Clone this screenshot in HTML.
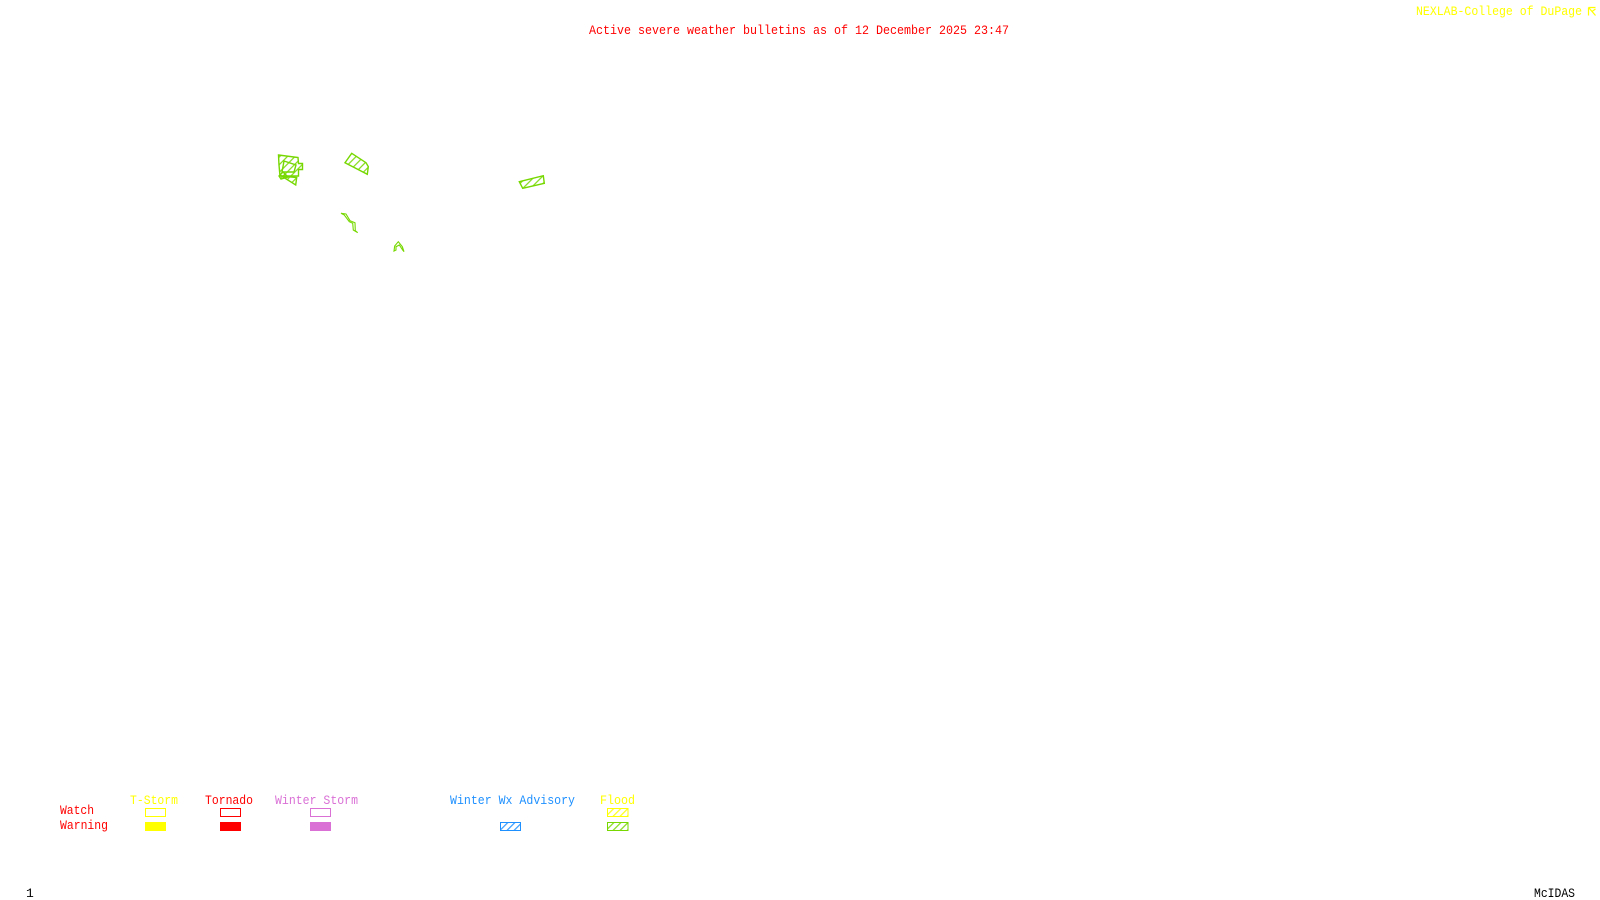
<!DOCTYPE html>
<html lang="en">
<head>
<meta charset="utf-8">
<title>Active severe weather bulletins</title>
<style>
html,body{margin:0;padding:0;background:#fff;width:1600px;height:900px;overflow:hidden}
svg{display:block}
text{font-family:"Liberation Mono","DejaVu Sans Mono",monospace;font-size:13px}
</style>
</head>
<body>
<svg width="1600" height="900" viewBox="0 0 1600 900" xmlns="http://www.w3.org/2000/svg">
<defs>
<pattern id="hg" width="5.4" height="5.4" patternUnits="userSpaceOnUse" patternTransform="rotate(45)">
<line x1="0.7" y1="0" x2="0.7" y2="5.4" stroke="#76d800" stroke-width="1.1"/>
</pattern>
<pattern id="hgs" width="5" height="5" patternUnits="userSpaceOnUse" patternTransform="rotate(45)">
<line x1="0.7" y1="0" x2="0.7" y2="5" stroke="#76d800" stroke-width="1.1"/>
</pattern>
<pattern id="hy" width="5" height="5" patternUnits="userSpaceOnUse" patternTransform="rotate(45)">
<line x1="0.7" y1="0" x2="0.7" y2="5" stroke="#ffff00" stroke-width="1.1"/>
</pattern>
<pattern id="hb" width="5" height="5" patternUnits="userSpaceOnUse" patternTransform="rotate(45)">
<line x1="0.7" y1="0" x2="0.7" y2="5" stroke="#1e90ff" stroke-width="1.1"/>
</pattern>
</defs>

<text x="589" y="34" fill="#ff0000" textLength="420" lengthAdjust="spacingAndGlyphs">Active severe weather bulletins as of 12 December 2025 23:47</text>
<text x="1416" y="15" fill="#ffff00" textLength="166" lengthAdjust="spacingAndGlyphs">NEXLAB-College of DuPage</text>
<g fill="none" stroke="#ffff00" stroke-width="1.2">
<path d="M1588.5 7.5H1595.5M1588.5 7.5V15.5M1589 8L1595.5 15.5M1592 11.5L1595.5 9"/>
</g>

<g stroke="#76d800" stroke-width="1.4" fill="url(#hg)" stroke-linejoin="miter">
<polygon points="278.5,155 298,157.5 298.5,163.5 302.5,163.5 302.5,169.5 298.5,169.5 298.5,176 280,176 279,165"/>
<polygon points="281,176 296.7,177.5 295.7,185 280,175"/>
<polygon points="284,161 296,165 294,172 282,172" fill="none"/>
<polygon points="279,176 283,172 288,177 281,179"/>
<polygon points="351.7,153.3 366,162.7 368.3,166.7 367.3,174.3 345,162.7"/>
<polygon points="519.3,181.7 543.3,175.7 544.3,183.3 522.7,188.3"/>
<polygon points="341,213.3 346,214 350,220.7 355,222.7 355.3,230.7 357.7,232.7 353.3,230 352.7,223.3 349.3,221.7 344.3,215" fill="none" stroke-width="1.1"/>
<polygon points="394,251 394.7,246 398.3,241.7 402.3,246.7 404,251.7 402.7,250 399.3,245 396,246.7 396,250" fill="none" stroke-width="1.1"/>
</g>

<text x="130" y="804" fill="#ffff00" textLength="48" lengthAdjust="spacingAndGlyphs">T-Storm</text>
<text x="205" y="804" fill="#ff0000" textLength="48" lengthAdjust="spacingAndGlyphs">Tornado</text>
<text x="275" y="804" fill="#da70d6" textLength="83" lengthAdjust="spacingAndGlyphs">Winter Storm</text>
<text x="450" y="804" fill="#1e90ff" textLength="125" lengthAdjust="spacingAndGlyphs">Winter Wx Advisory</text>
<text x="600" y="804" fill="#ffff00" textLength="35" lengthAdjust="spacingAndGlyphs">Flood</text>
<text x="60" y="814" fill="#ff0000" textLength="34" lengthAdjust="spacingAndGlyphs">Watch</text>
<text x="60" y="829" fill="#ff0000" textLength="48" lengthAdjust="spacingAndGlyphs">Warning</text>

<rect x="145.5" y="808.5" width="20" height="8" fill="none" stroke="#ffff00"/>
<rect x="220.5" y="808.5" width="20" height="8" fill="none" stroke="#ff0000"/>
<rect x="310.5" y="808.5" width="20" height="8" fill="none" stroke="#da70d6"/>
<rect x="607.5" y="808.5" width="20.5" height="8" fill="url(#hy)" stroke="#ffff00"/>

<rect x="145" y="822" width="21" height="9" fill="#ffff00"/>
<rect x="220" y="822" width="21" height="9" fill="#ff0000"/>
<rect x="310" y="822" width="21" height="9" fill="#da70d6"/>
<rect x="500.5" y="822.5" width="20" height="8" fill="url(#hb)" stroke="#1e90ff"/>
<rect x="607.5" y="822.5" width="20.5" height="8" fill="url(#hgs)" stroke="#76d800"/>

<text x="26" y="897" fill="#000000">1</text>
<text x="1534" y="897" fill="#000000" textLength="41" lengthAdjust="spacingAndGlyphs">McIDAS</text>
</svg>
</body>
</html>
